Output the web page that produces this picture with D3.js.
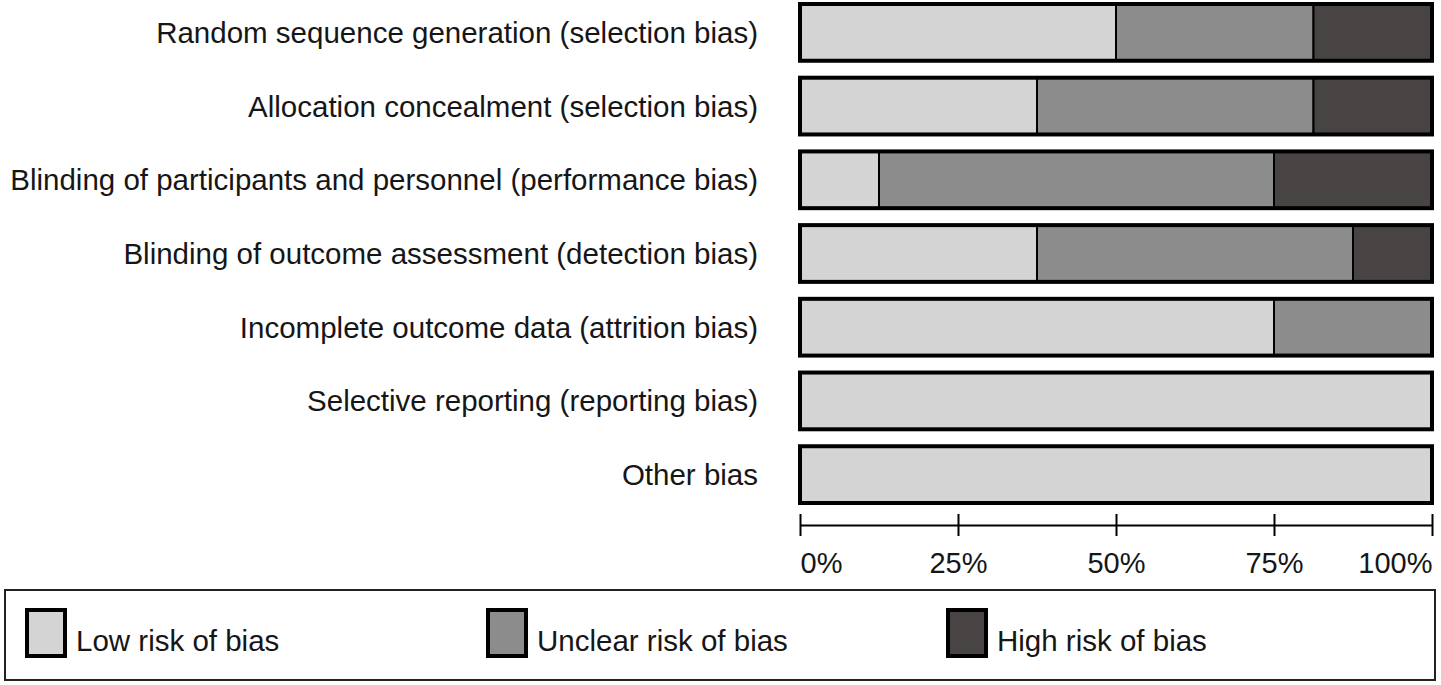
<html>
<head>
<meta charset="utf-8">
<title>Risk of bias graph</title>
<script src="https://d3js.org/d3.v7.min.js"></script>
<style>
  body { margin: 0; background: white; }
  text { font-family: "Liberation Sans", Arial, sans-serif; }
</style>
</head>
<body>
<svg id="plot"></svg>
<script>
// risk of bias domains (top to bottom)
var domains = [
  "Random sequence generation (selection bias)",
  "Allocation concealment (selection bias)",
  "Blinding of participants and personnel (performance bias)",
  "Blinding of outcome assessment (detection bias)",
  "Incomplete outcome data (attrition bias)",
  "Selective reporting (reporting bias)",
  "Other bias"
]
// percent of studies per judgement
var lowRisk     = [50, 37.5, 12.5, 37.5, 75, 100, 100]
var unclearRisk = [31.25, 43.75, 62.5, 50, 25, 0, 0]
var highRisk    = [18.75, 18.75, 25, 12.5, 0, 0, 0]

var legendLabels = ["Low risk of bias", "Unclear risk of bias", "High risk of bias"]
var tickValues = [0, 25, 50, 75, 100]

var colors = ["#d4d4d4", "#8c8c8c", "#484443"]

var width = 1441
var height = 685

var svg = d3.select("#plot")
  .attr("width", width)
  .attr("height", height)

var xScale = d3.scaleLinear().domain([0, 100]).range([800, 1432])

var yScale = d3.scaleBand()
  .domain(domains)
  .range([4, 503])
  .paddingInner(0.23)
  .paddingOuter(0)

// stack the three series
var table = domains.map(function (d, i) {
  return { domain: d, low: lowRisk[i], unclear: unclearRisk[i], high: highRisk[i] }
})
var stack = d3.stack().keys(["low", "unclear", "high"])(table)

// category labels
svg.append("g")
  .selectAll("text")
  .data(domains)
  .enter().append("text")
  .attr("x", 758)
  .attr("y", function (d) { return yScale(d) + yScale.bandwidth() / 2 })
  .attr("text-anchor", "end")
  .attr("dominant-baseline", "central")
  .attr("font-size", 29.5)
  .attr("fill", "#161616")
  .text(function (d) { return d })

// bar segments
svg.append("g")
  .selectAll("g")
  .data(stack)
  .enter().append("g")
  .attr("fill", function (d, i) { return colors[i] })
  .selectAll("rect")
  .data(function (d) { return d.filter(function (s) { return s[1] - s[0] > 0 }) })
  .enter().append("rect")
  .attr("x", function (d) { return xScale(d[0]) })
  .attr("width", function (d) { return xScale(d[1]) - xScale(d[0]) })
  .attr("y", function (d) { return yScale(d.data.domain) })
  .attr("height", yScale.bandwidth())
  .attr("stroke", "black")
  .attr("stroke-width", 2)

// thick outline round each bar
svg.append("g")
  .selectAll("rect")
  .data(domains)
  .enter().append("rect")
  .attr("x", xScale(0))
  .attr("width", xScale(100) - xScale(0))
  .attr("y", function (d) { return yScale(d) })
  .attr("height", yScale.bandwidth())
  .attr("fill", "none")
  .attr("stroke", "black")
  .attr("stroke-width", 4)

// x axis
var xAxis = d3.axisBottom(xScale)
  .tickValues(tickValues)
  .tickSize(0)
  .tickPadding(0)
  .tickFormat(function (d) { return d + "%" })

var axis = svg.append("g")
  .attr("transform", "translate(0,525)")
  .call(xAxis)

axis.select(".domain").attr("stroke", "black").attr("stroke-width", 2)
axis.selectAll(".tick line")
  .attr("y1", -11)
  .attr("y2", 11)
  .attr("stroke", "black")
  .attr("stroke-width", 2)
axis.selectAll(".tick text")
  .attr("font-size", 29)
  .attr("font-family", "Liberation Sans, Arial, sans-serif")
  .attr("fill", "#161616")
  .attr("y", 48)
  .attr("dy", 0)
  .attr("text-anchor", function (d) { return d === 0 ? "start" : d === 100 ? "end" : "middle" })

// legend
svg.append("rect")
  .attr("x", 5)
  .attr("y", 590)
  .attr("width", 1430)
  .attr("height", 90)
  .attr("fill", "white")
  .attr("stroke", "#222")
  .attr("stroke-width", 2)

var legendX = [27, 488, 948]

var legend = svg.append("g")
  .selectAll("g")
  .data(legendLabels)
  .enter().append("g")
  .attr("transform", function (d, i) { return "translate(" + legendX[i] + ",610)" })

legend.append("rect")
  .attr("width", 38)
  .attr("height", 46)
  .attr("fill", function (d, i) { return colors[i] })
  .attr("stroke", "black")
  .attr("stroke-width", 4)

legend.append("text")
  .attr("x", 49)
  .attr("y", 41)
  .attr("font-size", 29.5)
  .attr("fill", "#161616")
  .text(function (d) { return d })
</script>
</body>
</html>
